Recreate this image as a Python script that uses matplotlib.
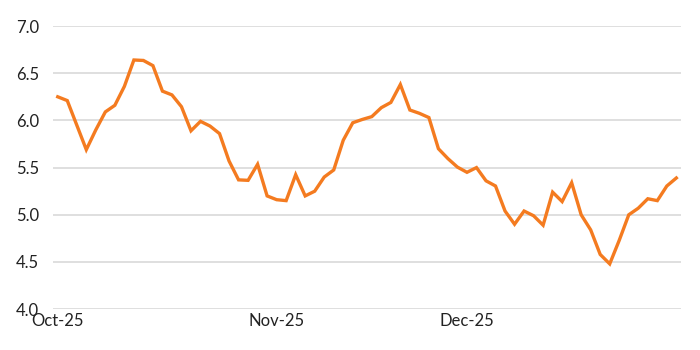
import numpy as np
import pandas as pd
import matplotlib.pyplot as plt

# business days, Oct to Dec 2025
dates = pd.bdate_range("2025-10-01", "2025-12-31")

values = [
    6.25, 6.21, 5.95, 5.69, 5.90, 6.09, 6.16, 6.36, 6.64, 6.635,
    6.58, 6.31, 6.27, 6.145, 5.89, 5.99, 5.94, 5.86, 5.57, 5.37,
    5.365, 5.535, 5.20, 5.16, 5.15, 5.425, 5.20, 5.25, 5.40, 5.475,
    5.79, 5.975, 6.01, 6.04, 6.135, 6.19, 6.38, 6.11, 6.075, 6.03,
    5.70, 5.595, 5.505, 5.45, 5.50, 5.36, 5.305, 5.04, 4.90, 5.04,
    4.99, 4.89, 5.24, 5.14, 5.34, 5.00, 4.84, 4.58, 4.48, 4.73,
    5.00, 5.07, 5.17, 5.15, 5.305, 5.39,
]

y_ticks = [4.0, 4.5, 5.0, 5.5, 6.0, 6.5, 7.0]

plt.rcParams["font.family"] = ["Lato", "DejaVu Sans"]

fig = plt.figure(figsize=(7, 3.5), dpi=100)
ax = fig.add_axes([0.0757, 0.1166, 0.8973, 0.8091])

x = np.arange(len(values))
ax.plot(x, values, color="#F47B20", linewidth=2.4, solid_joinstyle="miter")

# month labels at the first business day of each month
month_pos = [i for i in range(len(dates)) if i == 0 or dates[i].month != dates[i - 1].month]
ax.set_xticks(month_pos)
ax.set_xticklabels([dates[i].strftime("%b-%y") for i in month_pos])
ax.set_xlim(-0.5, len(values) - 0.5)

ax.set_ylim(4.0, 7.0)
ax.set_yticks(y_ticks)
ax.set_yticklabels([f"{v:.1f}" for v in y_ticks])

ax.grid(axis="y", color="#D9D9D9", linewidth=1.2)
ax.set_axisbelow(True)
for s in ax.spines.values():
    s.set_visible(False)
ax.tick_params(axis="both", length=0, labelsize=12, colors="#222222")
ax.tick_params(axis="x", pad=3)
ax.tick_params(axis="y", pad=10)

fig.savefig("out.png", dpi=100)
